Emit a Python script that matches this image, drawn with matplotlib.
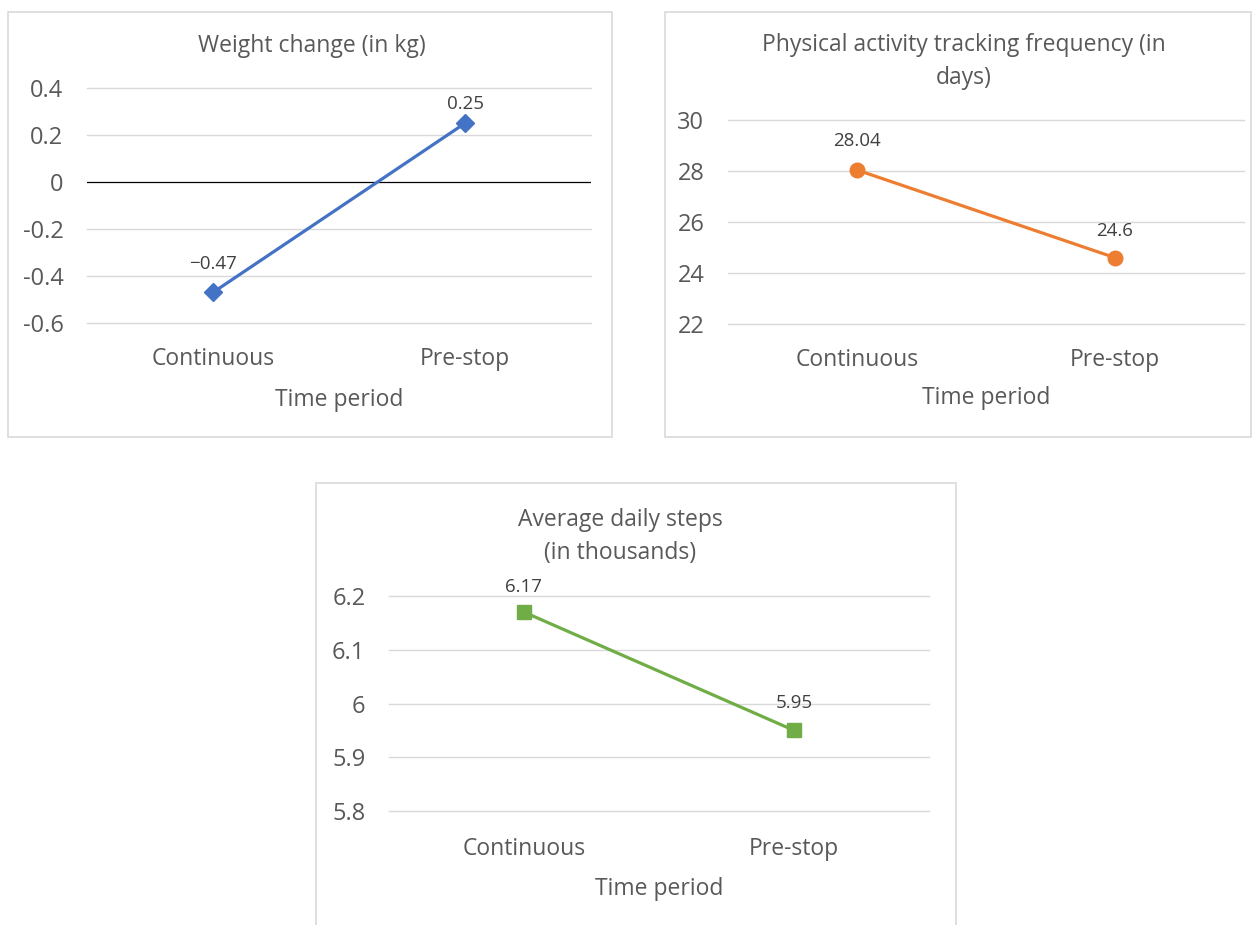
import matplotlib
matplotlib.use("Agg")
import matplotlib.pyplot as plt
from matplotlib.patches import Rectangle

plt.rcParams['font.family'] = ['Open Sans', 'DejaVu Sans']

categories = ["Continuous", "Pre-stop"]
weight_change = [-0.47, 0.25]
weight_labels = ["\u22120.47", "0.25"]
tracking_days = [28.04, 24.6]
tracking_labels = ["28.04", "24.6"]
daily_steps = [6.17, 5.95]
steps_labels = ["6.17", "5.95"]

weight_ticks = [-0.6, -0.4, -0.2, 0, 0.2, 0.4]
weight_ticklabels = ["-0.6", "-0.4", "-0.2", "0", "0.2", "0.4"]
tracking_ticks = [22, 24, 26, 28, 30]
tracking_ticklabels = ["22", "24", "26", "28", "30"]
steps_ticks = [5.8, 5.9, 6.0, 6.1, 6.2]
steps_ticklabels = ["5.8", "5.9", "6", "6.1", "6.2"]

W, H = 1253, 925
fig = plt.figure(figsize=(W / 100, H / 100), dpi=100)
fig.patch.set_facecolor("white")

TXT = "#595959"
GRID = "#d9d9d9"


def px_rect(x0, y0, x1, y1):
    return [x0 / W, 1 - y1 / H, (x1 - x0) / W, (y1 - y0) / H]


def frame(x0, y0, x1, y1):
    fig.patches.append(Rectangle((x0 / W, 1 - y1 / H), (x1 - x0) / W, (y1 - y0) / H,
                                 transform=fig.transFigure, fill=False,
                                 edgecolor=GRID, linewidth=1.2))


def panel(rect, values, labels, label_off_px, ticks, ticklabels, color, marker,
          msize, title, title_y, cat_pad, xlabel_y, zero_line=False):
    ax = fig.add_axes(px_rect(*rect))
    ax.set_facecolor("none")
    x = list(range(len(categories)))
    ax.set_xlim(-0.5, len(categories) - 0.5)
    ax.set_ylim(ticks[0], ticks[-1])
    for t in ticks:
        if zero_line and t == 0:
            continue
        ax.axhline(t, color=GRID, linewidth=1.0, zorder=0, clip_on=False)
    if zero_line:
        ax.axhline(0, color="black", linewidth=0.9, zorder=1)
    ax.plot(x, values, color=color, linewidth=2.3, marker=marker,
            markersize=msize, zorder=3, clip_on=False)
    for xi, v, lab, off in zip(x, values, labels, label_off_px):
        ax.annotate(lab, (xi, v), xytext=(0, off * 0.72), textcoords="offset points",
                    ha="center", va="center", fontsize=13.5, color="#404040")
    for s in ax.spines.values():
        s.set_visible(False)
    ax.set_yticks(ticks)
    ax.set_yticklabels(ticklabels)
    ax.set_xticks(x)
    ax.set_xticklabels(categories)
    ax.tick_params(axis="y", length=0, pad=17, labelsize=17, labelcolor=TXT)
    ax.tick_params(axis="x", length=0, pad=cat_pad, labelsize=16.5, labelcolor=TXT)
    cx = (rect[0] + rect[2]) / 2
    fig.text(cx / W, 1 - xlabel_y / H, "Time period", ha="center", va="center",
             fontsize=16.5, color=TXT)
    for i, line in enumerate(title):
        fig.text(line[1] / W, 1 - (title_y + 33 * i) / H, line[0],
                 ha="center", va="center", fontsize=16.5, color=TXT)
    return ax


frame(8, 12, 612, 437)
frame(665, 12, 1251, 437)
frame(316, 483, 956, 940)

panel((87, 88, 591, 323), weight_change, weight_labels, [28, 19], weight_ticks,
      weight_ticklabels, "#4472C4", "D", 9.5,
      [("Weight change (in kg)", 312)], 46, 17, 400, zero_line=True)

panel((728, 120, 1244, 324), tracking_days, tracking_labels, [29, 27], tracking_ticks,
      tracking_ticklabels, "#ED7D31", "o", 10.5,
      [("Physical activity tracking frequency (in", 964), ("days)", 964)],
      45, 17, 398)

panel((389, 596, 929, 811), daily_steps, steps_labels, [25, 27], steps_ticks,
      steps_ticklabels, "#70AD47", "s", 9.5,
      [("Average daily steps", 620), ("(in thousands)", 620)],
      520, 19, 889)

fig.savefig("out.png", dpi=100, facecolor="white")
